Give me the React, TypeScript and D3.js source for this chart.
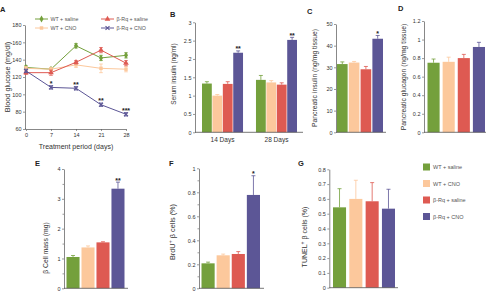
import React, { useEffect, useRef } from 'react';
import * as d3 from 'd3';

// groups and their fill colours
const groups = ['WT + saline', 'WT + CNO', 'β-Rq + saline', 'β-Rq + CNO'];
const groupColors = ['#74a03c', '#fcc89c', '#de5a52', '#5c5696'];

// A: blood glucose over the treatment period
const days = [0, 7, 14, 21, 28];
const glucoseWtSaline = [131, 129, 156, 142, 145];
const glucoseWtCno = [130, 129, 134, 130, 129];
const glucoseRqSaline = [125, 125, 137, 151, 136];
const glucoseRqCno = [127, 108, 107, 88, 77];
const glucoseErrWtSaline = [2, 1.5, 2.5, 3, 3];
const glucoseErrWtCno = [2, 2, 3, 5, 3];
const glucoseErrRqSaline = [2, 3, 2, 3, 3];
const glucoseErrRqCno = [2, 2, 2, 2, 2];
const glucoseStars = ['', '*', '**', '**', '***'];
const glucoseTicks = [60, 80, 100, 120, 140, 160, 180];

// B: serum insulin
const insulinDays = ['14 Days', '28 Days'];
const serumInsulin14 = [1.33, 1.0, 1.32, 2.17];
const serumInsulin28 = [1.43, 1.36, 1.3, 2.52];
const serumInsulinErr14 = [0.05, 0.03, 0.06, 0.05];
const serumInsulinErr28 = [0.12, 0.05, 0.05, 0.07];
const serumInsulinStars = ['', '', '', '**'];
const serumInsulinTicks = [0, 0.5, 1, 1.5, 2, 2.5, 3];

// C: pancreatic insulin
const pancInsulin = [31.5, 32.2, 29.1, 43.2];
const pancInsulinErr = [1.0, 0.5, 1.3, 1.5];
const pancInsulinStars = ['', '', '', '*'];
const pancInsulinTicks = [0, 10, 20, 30, 40, 50];

// D: pancreatic glucagon
const glucagon = [0.75, 0.76, 0.8, 0.92];
const glucagonErr = [0.04, 0.05, 0.04, 0.05];
const glucagonTicks = [0, 0.2, 0.4, 0.6, 0.8, 1, 1.2];

// E: beta cell mass
const cellMass = [1.05, 1.37, 1.54, 3.34];
const cellMassErr = [0.05, 0.05, 0.02, 0.22];
const cellMassStars = ['', '', '', '**'];
const cellMassTicks = [0, 1, 2, 3, 4];
const cellMassMinor = [0.5, 1.5, 2.5, 3.5];

// F: BrdU+ beta cells
const brdu = [0.208, 0.275, 0.286, 0.778];
const brduErr = [0.01, 0.01, 0.02, 0.16];
const brduStars = ['', '', '', '*'];
const brduTicks = [0, 0.2, 0.4, 0.6, 0.8, 1];
const brduMinor = [0.1, 0.3, 0.5, 0.7, 0.9];

// G: TUNEL+ beta cells
const tunel = [0.543, 0.6, 0.584, 0.534];
const tunelErr = [0.126, 0.126, 0.126, 0.131];
const tunelTicks = [0, 0.1, 0.2, 0.3, 0.4, 0.5, 0.6, 0.7, 0.8];

const FONT = '"Liberation Sans", Arial, sans-serif';
const TEXT = '#333';
const AXIS = '#555';

const fmt = (d: number) => String(+(+d).toFixed(2));

function yAxis(svg: any, y: any, x: number, ticks: number[], minor?: number[]) {
  const g = svg.append('g').attr('transform', `translate(${x},0)`)
    .call(d3.axisLeft(y).tickValues(ticks).tickSize(2).tickSizeOuter(0).tickPadding(1.5).tickFormat(fmt as any));
  g.select('.domain').attr('stroke', AXIS).attr('stroke-width', 0.7);
  g.selectAll('.tick line').attr('stroke', AXIS).attr('stroke-width', 0.6);
  g.selectAll('.tick text').attr('font-size', 5.5).attr('fill', TEXT).attr('font-family', FONT);
  if (minor) {
    const m = svg.append('g').attr('transform', `translate(${x},0)`)
      .call(d3.axisLeft(y).tickValues(minor).tickSize(1.5).tickFormat(() => ''));
    m.select('.domain').remove();
    m.selectAll('.tick line').attr('stroke', AXIS).attr('stroke-width', 0.6);
  }
}

function baseLine(svg: any, x0: number, x1: number, yPx: number) {
  svg.append('line').attr('x1', x0).attr('x2', x1).attr('y1', yPx).attr('y2', yPx)
    .attr('stroke', AXIS).attr('stroke-width', 0.8);
}

function vTitle(svg: any, x: number, y: number, size: number, parts: [string, boolean][]) {
  const t = svg.append('text')
    .attr('transform', `translate(${x},${y}) rotate(-90)`)
    .attr('text-anchor', 'middle').attr('font-family', FONT)
    .attr('font-size', size).attr('fill', TEXT);
  parts.forEach(([s, sup]) => {
    const ts = t.append('tspan').text(s);
    if (sup) ts.attr('baseline-shift', 'super').attr('font-size', size * 0.75);
  });
}

function letter(svg: any, x: number, y: number, s: string) {
  svg.append('text').attr('x', x).attr('y', y).text(s)
    .attr('font-family', FONT).attr('font-weight', 'bold').attr('font-size', 7.5).attr('fill', '#222');
}

function bars(svg: any, x: any, y: any, values: number[], errs: number[], stars: string[] | null, offset = 0) {
  const w = x.bandwidth();
  groups.forEach((gName, i) => {
    const left = offset + x(gName);
    const cx = left + w / 2;
    svg.append('rect').attr('x', left).attr('y', y(values[i])).attr('width', w)
      .attr('height', y(0) - y(values[i])).attr('fill', groupColors[i]);
    const top = y(values[i] + errs[i]);
    svg.append('line').attr('x1', cx).attr('x2', cx).attr('y1', y(values[i])).attr('y2', top)
      .attr('stroke', groupColors[i]).attr('stroke-width', 0.8);
    svg.append('line').attr('x1', cx - 2).attr('x2', cx + 2).attr('y1', top).attr('y2', top)
      .attr('stroke', groupColors[i]).attr('stroke-width', 0.8);
    if (stars && stars[i]) {
      svg.append('text').attr('x', cx).attr('y', top + 0.5).attr('text-anchor', 'middle').text(stars[i])
        .attr('font-family', FONT).attr('font-size', 7).attr('font-weight', 'bold').attr('fill', '#222');
    }
  });
}

export default function App() {
  const ref = useRef<SVGSVGElement>(null);

  useEffect(() => {
    const svg = d3.select(ref.current);
    svg.selectAll('*').remove();

    // ---- A: glucose time course
    const xA = d3.scaleLinear().domain([0, 28]).range([26, 126]);
    const yA = d3.scaleLinear().domain([60, 180]).range([129, 25]);
    yAxis(svg, yA, 25, glucoseTicks);
    const xAx = svg.append('g').attr('transform', 'translate(0,129)')
      .call(d3.axisBottom(xA).tickValues(days).tickSize(2).tickSizeOuter(0).tickPadding(2));
    xAx.select('.domain').attr('stroke', AXIS).attr('stroke-width', 0.7);
    xAx.selectAll('.tick line').attr('stroke', AXIS).attr('stroke-width', 0.6);
    xAx.selectAll('.tick text').attr('font-size', 5.5).attr('fill', TEXT).attr('font-family', FONT);
    svg.append('line').attr('x1', 25).attr('x2', 26).attr('y1', 129).attr('y2', 129).attr('stroke', AXIS);

    svg.append('text').attr('x', 76).attr('y', 149).attr('text-anchor', 'middle')
      .text('Treatment period (days)').attr('font-family', FONT).attr('font-size', 7).attr('fill', TEXT);
    vTitle(svg, 9.5, 77, 7.3, [['Blood glucose (mg/dl)', false]]);
    letter(svg, 0, 12, 'A');

    const series = [
      { vals: glucoseWtSaline, errs: glucoseErrWtSaline, sym: d3.symbolDiamond, size: 14 },
      { vals: glucoseWtCno, errs: glucoseErrWtCno, sym: d3.symbolSquare, size: 12 },
      { vals: glucoseRqSaline, errs: glucoseErrRqSaline, sym: d3.symbolTriangle, size: 14 },
      { vals: glucoseRqCno, errs: glucoseErrRqCno, sym: d3.symbolTimes, size: 12 },
    ];
    const line = d3.line<number>().x((_, i) => xA(days[i])).y(d => yA(d));
    series.forEach((s, k) => {
      const c = groupColors[k];
      svg.append('path').attr('d', line(s.vals)).attr('fill', 'none').attr('stroke', c).attr('stroke-width', 1);
      s.vals.forEach((v, i) => {
        const cx = xA(days[i]);
        svg.append('line').attr('x1', cx).attr('x2', cx).attr('y1', yA(v - s.errs[i])).attr('y2', yA(v + s.errs[i]))
          .attr('stroke', c).attr('stroke-width', 0.8);
        [v - s.errs[i], v + s.errs[i]].forEach(e =>
          svg.append('line').attr('x1', cx - 1.8).attr('x2', cx + 1.8).attr('y1', yA(e)).attr('y2', yA(e))
            .attr('stroke', c).attr('stroke-width', 0.8));
        const p = svg.append('path').attr('d', d3.symbol().type(s.sym).size(s.size)())
          .attr('transform', `translate(${cx},${yA(v)})`);
        if (s.sym === d3.symbolTimes) p.attr('fill', 'none').attr('stroke', c).attr('stroke-width', 1.1);
        else p.attr('fill', c);
      });
    });
    glucoseRqCno.forEach((v, i) => {
      if (!glucoseStars[i]) return;
      svg.append('text').attr('x', xA(days[i])).attr('y', yA(v) - 1.5).attr('text-anchor', 'middle')
        .text(glucoseStars[i]).attr('font-family', FONT).attr('font-size', 7).attr('font-weight', 'bold').attr('fill', '#222');
    });

    // legend for A
    const legendPos = [[35, 19], [35, 28], [101, 19], [101, 28]];
    groups.forEach((gName, k) => {
      const [lx, ly] = legendPos[k];
      svg.append('line').attr('x1', lx).attr('x2', lx + 13).attr('y1', ly).attr('y2', ly)
        .attr('stroke', groupColors[k]).attr('stroke-width', 1);
      const s = series[k];
      const p = svg.append('path').attr('d', d3.symbol().type(s.sym).size(s.size)())
        .attr('transform', `translate(${lx + 6.5},${ly})`);
      if (s.sym === d3.symbolTimes) p.attr('fill', 'none').attr('stroke', groupColors[k]).attr('stroke-width', 1.1);
      else p.attr('fill', groupColors[k]);
      svg.append('text').attr('x', lx + 15.5).attr('y', ly + 1.8).text(gName)
        .attr('font-family', FONT).attr('font-size', 5.3).attr('fill', '#555');
    });

    // ---- B: serum insulin, grouped by day
    const yB = d3.scaleLinear().domain([0, 3]).range([132.3, 22.3]);
    const x0B = d3.scaleBand().domain(insulinDays).range([202, 297]).paddingInner(0.24);
    const x1B = d3.scaleBand().domain(groups).range([0, x0B.bandwidth()]).paddingInner(0.06);
    bars(svg, x1B, yB, serumInsulin14, serumInsulinErr14, serumInsulinStars, x0B('14 Days') as number);
    bars(svg, x1B, yB, serumInsulin28, serumInsulinErr28, serumInsulinStars, x0B('28 Days') as number);
    yAxis(svg, yB, 195, serumInsulinTicks);
    baseLine(svg, 195, 303, 132.3);
    insulinDays.forEach(dl => {
      svg.append('text').attr('x', (x0B(dl) as number) + x0B.bandwidth() / 2).attr('y', 141.5)
        .attr('text-anchor', 'middle').text(dl).attr('font-family', FONT).attr('font-size', 6.5).attr('fill', TEXT);
    });
    vTitle(svg, 175.5, 74, 6.5, [['Serum insulin (ng/ml)', false]]);
    letter(svg, 170, 16.5, 'B');

    // ---- C: pancreatic insulin
    const yC = d3.scaleLinear().domain([0, 50]).range([132.3, 24]);
    const xC = d3.scaleBand().domain(groups).range([337, 383]).paddingInner(0.1);
    bars(svg, xC, yC, pancInsulin, pancInsulinErr, pancInsulinStars);
    yAxis(svg, yC, 336, pancInsulinTicks);
    baseLine(svg, 336, 386, 132.3);
    vTitle(svg, 316.5, 78, 6.8, [['Pancreatic insulin (ng/mg tissue)', false]]);
    letter(svg, 307, 14, 'C');

    // ---- D: pancreatic glucagon
    const yD = d3.scaleLinear().domain([0, 1.2]).range([132.3, 21]);
    const xD = d3.scaleBand().domain(groups).range([427.5, 485]).paddingInner(0.2);
    bars(svg, xD, yD, glucagon, glucagonErr, null);
    yAxis(svg, yD, 424, glucagonTicks);
    baseLine(svg, 424, 486, 132.3);
    vTitle(svg, 406, 77, 6.8, [['Pancreatic glucagon (ng/mg tissue)', false]]);
    letter(svg, 398, 11, 'D');

    // ---- E: beta cell mass
    const yE = d3.scaleLinear().domain([0, 4]).range([288.3, 169]);
    const xE = d3.scaleBand().domain(groups).range([66.5, 124.5]).paddingInner(0.13);
    bars(svg, xE, yE, cellMass, cellMassErr, cellMassStars);
    yAxis(svg, yE, 64, cellMassTicks, cellMassMinor);
    baseLine(svg, 64, 128, 288.3);
    vTitle(svg, 47.5, 248, 6.8, [['β Cell mass (mg)', false]]);
    letter(svg, 35, 165.5, 'E');

    // ---- F: BrdU+ beta cells
    const yF = d3.scaleLinear().domain([0, 1]).range([288.3, 168.3]);
    const xF = d3.scaleBand().domain(groups).range([201.5, 260]).paddingInner(0.13);
    bars(svg, xF, yF, brdu, brduErr, brduStars);
    yAxis(svg, yF, 199, brduTicks, brduMinor);
    baseLine(svg, 199, 264, 288.3);
    vTitle(svg, 175, 232, 7.3, [['BrdU', false], ['+', true], [' β cells (%)', false]]);
    letter(svg, 169, 166, 'F');

    // ---- G: TUNEL+ beta cells
    const yG = d3.scaleLinear().domain([0, 0.8]).range([287.7, 169.3]);
    const xG = d3.scaleBand().domain(groups).range([333, 395]).paddingInner(0.2);
    bars(svg, xG, yG, tunel, tunelErr, null);
    yAxis(svg, yG, 329.3, tunelTicks);
    baseLine(svg, 329.3, 398, 287.7);
    vTitle(svg, 306.5, 237, 7, [['TUNEL', false], ['+', true], [' β cells (%)', false]]);
    letter(svg, 298, 166, 'G');

    // shared legend
    groups.forEach((gName, k) => {
      const ly = 167 + k * 16.5;
      svg.append('rect').attr('x', 423).attr('y', ly - 3.5).attr('width', 7).attr('height', 7).attr('fill', groupColors[k]);
      svg.append('text').attr('x', 433).attr('y', ly + 2).text(gName)
        .attr('font-family', FONT).attr('font-size', 5.5).attr('fill', '#555');
    });
  }, []);

  return (
    <svg ref={ref} width={486} height={303}
      style={{ position: 'absolute', left: 0, top: 0, background: '#fff' }} />
  );
}
